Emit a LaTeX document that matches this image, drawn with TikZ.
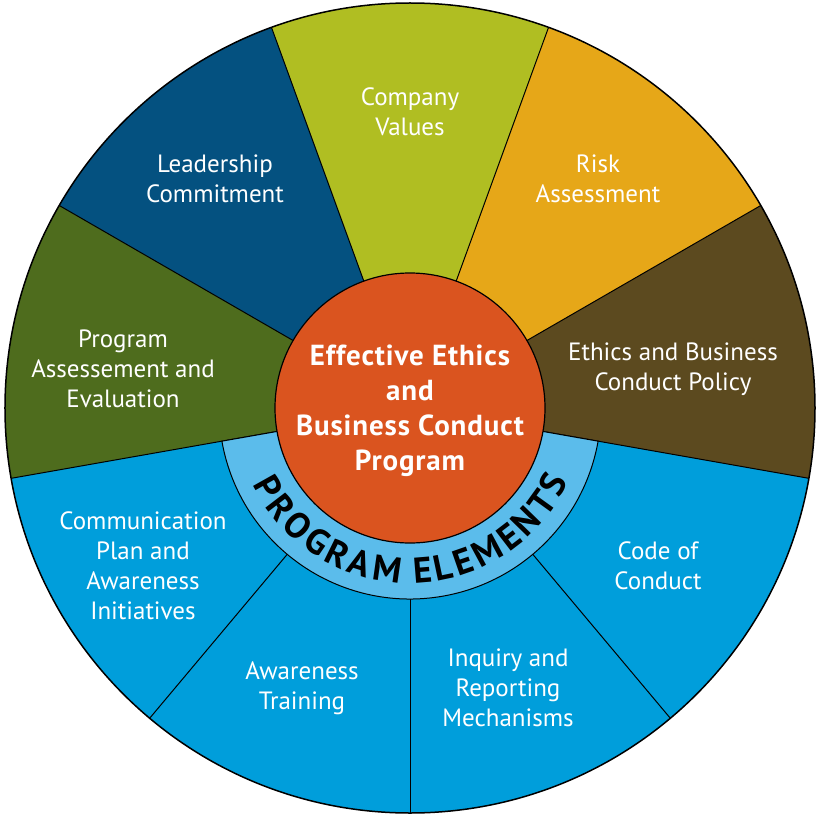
\documentclass[tikz,border=0pt]{standalone}
\usepackage{fontspec}
\setmainfont{PT Sans}
\usetikzlibrary{decorations.text}
\definecolor{cDarkBlue}{RGB}{4,81,128}
\definecolor{cLime}{RGB}{176,190,34}
\definecolor{cGold}{RGB}{230,167,24}
\definecolor{cBrown}{RGB}{92,74,31}
\definecolor{cOlive}{RGB}{78,108,29}
\definecolor{cBlue}{RGB}{0,158,219}
\definecolor{cRing}{RGB}{91,188,235}
\definecolor{cCore}{RGB}{218,84,31}
\newcommand{\ringfont}{\bfseries\fontsize{36}{36}\selectfont}
\newcommand{\corefont}{\bfseries\fontsize{29}{35}\selectfont\addfontfeatures{LetterSpace=3}}
\begin{document}
\begin{tikzpicture}[x=1pt,y=1pt,
  lbl/.style={text=white, align=center, font=\fontsize{25}{30}\selectfont, inner sep=0pt},
  coretxt/.style={text=white, align=center, font=\corefont, inner sep=0pt},
  divider/.style={line width=1pt, draw=black}]
\useasboundingbox (-410,-406) rectangle (408,408);
\def\R{405}
\foreach \a/\c in {-90/cBlue,-50/cBlue,-10/cBrown,30/cGold,70/cLime,110/cDarkBlue,150/cOlive,190/cBlue,230/cBlue}{
  \fill[\c] (0,0) -- (\a:\R) arc[start angle=\a, delta angle=40, radius=\R] -- cycle;
}
\foreach \a in {-90,-50,...,230} \draw[divider] (0,0) -- (\a:\R);
\fill[cRing, draw=black, line width=1pt] (190:135) -- (190:191) arc[start angle=190, end angle=350, radius=191] -- (350:135) -- cycle;
\draw[line width=1.5pt] (0,0) circle[radius=\R];
\node[circle, fill=cCore, draw=black, line width=1.2pt, minimum size=270pt, inner sep=0pt] (core) at (0,0) {};
\node[coretxt] (coretext) at (0,-3) {Effective Ethics\\and\\Business Conduct\\Program};
\path[decorate, decoration={text effects along path, text={PROGRAM ELEMENTS}, text align=center,
   text effects/.cd, text along path, fit text to path, characters={font=\ringfont, text=black}}]
   (206:175) arc[start angle=206, end angle=335, radius=175];
\node[lbl] (values) at (0,296) {Company\\Values};
\node[lbl] (leader) at (-195,229) {Leadership\\Commitment};
\node[lbl] (risk) at (188,229) {Risk\\Assessment};
\node[lbl] (policy) at (263,39) {Ethics and Business\\Conduct Policy};
\node[lbl] (assess) at (-287,39) {Program\\Assessement and\\Evaluation};
\node[lbl] (comm) at (-267,-158) {Communication\\Plan and\\Awareness\\Initiatives};
\node[lbl] (training) at (-108,-280) {Awareness\\Training};
\node[lbl] (inquiry) at (98,-280) {Inquiry and\\Reporting\\Mechanisms};
\node[lbl] (code) at (248,-158) {Code of\\Conduct};
\end{tikzpicture}
\end{document}
